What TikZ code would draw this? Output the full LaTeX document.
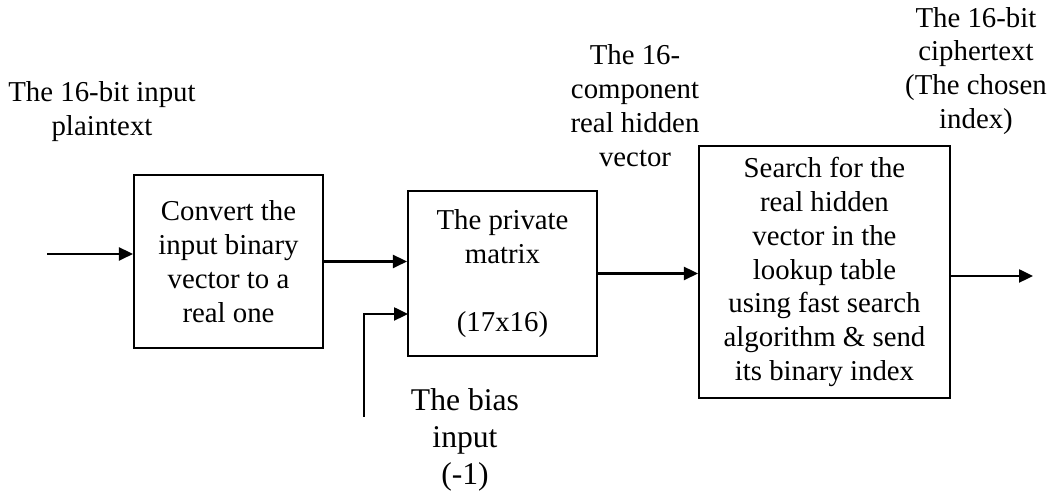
\documentclass[tikz,border=0pt]{standalone}
\usepackage{fontspec}
\setmainfont{Liberation Serif}
\usetikzlibrary{arrows.meta,calc}

\begin{document}
\begin{tikzpicture}[x=0.02cm, y=-0.02cm,
	blk/.style={draw, line width=1.2pt, align=center, inner sep=0pt},
	lbl/.style={align=center, inner sep=0pt},
	arr/.style={line width=1.4pt, -{Triangle[length=14*0.02cm, width=13*0.02cm]}}]
		%%%%% START %%%%%
		\useasboundingbox (0, 0) rectangle (1056, 492);
		\fontsize{16.4}{19.3}\selectfont
		
		\node[blk, minimum width=3.78cm, minimum height=3.46cm] (conv) at (228.5, 261.5) {Convert the\\input binary\\vector to a\\real one};
		\node[blk, minimum width=3.78cm, minimum height=3.30cm] (pmat) at (502.5, 273.5) {The private\\matrix\\[19.3pt](17x16)};
		\node[blk, minimum width=5.02cm, minimum height=5.04cm] (srch) at (824.5, 272) {Search for the\\real hidden\\vector in the\\lookup table\\using fast search\\algorithm \& send\\its binary index};
		
		\node[lbl] (plain) at (102, 112) {The 16-bit input\\plaintext};
		\node[lbl] (hidden) at (635, 106) {The 16-\\component\\real hidden\\vector};
		\node[lbl] (cipher) at (976, 71) {The 16-bit\\ciphertext\\(The chosen\\index)};
		\node[lbl, font=\fontsize{18}{21.2}\selectfont] (biasl) at (465, 440) {The bias\\input\\(-1)};
		
		\coordinate (in) at (47, 254);
		\coordinate (bias) at (364, 417);
		\coordinate (biasin) at (408, 314);
		\coordinate (out) at (1033, 276);
		
		\draw[arr] (in) -- (in -| conv.west);
		\draw[arr] (conv.east) -- (conv.east -| pmat.west);
		\draw[arr] (bias) |- (biasin);
		\draw[arr] (pmat.east) -- (pmat.east -| srch.west);
		\draw[arr] ($(srch.east)+(0, 4)$) -- (out);
		
		%%%%% END %%%%%
	\end{tikzpicture}
\end{document}
